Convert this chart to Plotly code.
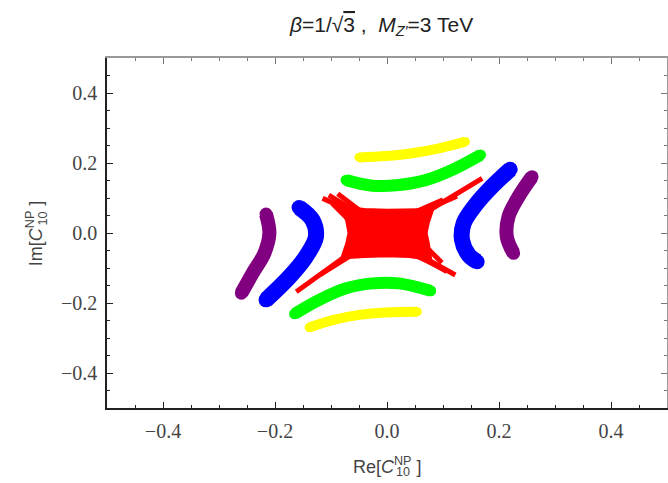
import plotly.graph_objects as go

# ---- data ----
yellow_top_x = [-0.050, -0.002, 0.045, 0.093, 0.140]
yellow_top_y = [0.216, 0.220, 0.228, 0.242, 0.261]
yellow_bot_x = [-0.139, -0.097, -0.050, -0.002, 0.054]
yellow_bot_y = [-0.270, -0.249, -0.234, -0.227, -0.225]

green_top_x = [-0.073, -0.026, 0.021, 0.069, 0.116, 0.167]
green_top_y = [0.151, 0.135, 0.137, 0.151, 0.180, 0.223]
green_bot_x = [-0.165, -0.121, -0.073, -0.026, 0.021, 0.078]
green_bot_y = [-0.231, -0.191, -0.158, -0.144, -0.144, -0.165]

blue_right_x = [0.220, 0.187, 0.158, 0.137, 0.134, 0.146, 0.161]
blue_right_y = [0.182, 0.132, 0.080, 0.028, -0.020, -0.063, -0.082]
blue_left_x = [-0.157, -0.133, -0.127, -0.145, -0.174, -0.216]
blue_left_y = [0.073, 0.037, -0.011, -0.068, -0.125, -0.191]

purple_right_x = [0.259, 0.235, 0.217, 0.214, 0.226]
purple_right_y = [0.161, 0.104, 0.047, -0.011, -0.058]
purple_left_x = [-0.216, -0.210, -0.219, -0.240, -0.260]
purple_left_y = [0.054, -0.001, -0.058, -0.115, -0.172]

red_blob_x = [-0.078, -0.040, 0.000, 0.040, 0.079, 0.072, 0.068, 0.072, 0.076,
              0.040, 0.000, -0.040, -0.078, -0.070, -0.066, -0.070]
red_blob_y = [0.070, 0.064, 0.062, 0.062, 0.064, 0.030, 0.000, -0.030, -0.072,
              -0.064, -0.062, -0.064, -0.068, -0.030, 0.000, 0.035]

red_arm_x = [0.060, 0.170, None, 0.060, 0.125, None, 0.050, 0.100, None,
             -0.060, -0.162, None, -0.060, -0.120, None,
             -0.060, -0.115, None, -0.055, -0.104, None, -0.045, -0.088, None,
             0.055, 0.122, None, 0.050, 0.107, None, 0.045, 0.093, None,
             -0.070, -0.098, None, 0.070, 0.098]
red_arm_y = [0.050, 0.156, None, 0.060, 0.105, None, 0.060, 0.095, None,
             -0.050, -0.168, None, -0.060, -0.120, None,
             0.060, 0.099, None, 0.060, 0.108, None, 0.060, 0.112, None,
             -0.060, -0.120, None, -0.060, -0.110, None, -0.060, -0.096, None,
             0.040, 0.085, None, -0.040, -0.085]

x_ticks = [-0.4, -0.2, 0.0, 0.2, 0.4]
y_ticks = [-0.4, -0.2, 0.0, 0.2, 0.4]

fig = go.Figure()


def band(x, y, color, width):
    fig.add_trace(go.Scatter(
        x=x, y=y, mode="lines+markers",
        line=dict(color=color, width=width, shape="spline", smoothing=1.0),
        marker=dict(color=color, size=width - 1, line=dict(width=0)),
        hoverinfo="skip", showlegend=False))


band(yellow_top_x, yellow_top_y, "#FFFF00", 10)
band(yellow_bot_x, yellow_bot_y, "#FFFF00", 10)
band(green_top_x, green_top_y, "#00FF00", 12)
band(green_bot_x, green_bot_y, "#00FF00", 12)
band(blue_right_x, blue_right_y, "#0000FF", 16)
band(blue_left_x, blue_left_y, "#0000FF", 16)
band(purple_right_x, purple_right_y, "#800080", 14)
band(purple_left_x, purple_left_y, "#800080", 14)

fig.add_trace(go.Scatter(
    x=red_arm_x, y=red_arm_y, mode="lines",
    line=dict(color="#FF0000", width=5), hoverinfo="skip", showlegend=False))
fig.add_trace(go.Scatter(
    x=red_blob_x + [red_blob_x[0]], y=red_blob_y + [red_blob_y[0]],
    mode="lines", fill="toself", fillcolor="#FF0000",
    line=dict(color="#FF0000", width=5),
    hoverinfo="skip", showlegend=False))

# dummy trace for top/right frame axes
fig.add_trace(go.Scatter(x=[None], y=[None], xaxis="x2", yaxis="y2",
                         showlegend=False, hoverinfo="skip"))

tickfont = dict(family="Liberation Serif, Times New Roman, serif", size=20, color="#444444")
common = dict(range=[-0.5, 0.5], showgrid=False, zeroline=False, showline=True,
              ticks="inside", tick0=0, dtick=0.2, ticklen=6, tickwidth=1.2,
              minor=dict(ticks="inside", ticklen=3, dtick=0.05, tick0=0, tickwidth=1),
              fixedrange=True)

fig.update_layout(
    width=668, height=483,
    margin=dict(l=107, r=1, t=58, b=75),
    paper_bgcolor="white", plot_bgcolor="white",
    xaxis=dict(**common, linecolor="#222222", linewidth=1.5, tickcolor="#222222",
               tickvals=x_ticks, ticktext=[f"{v:.1f}".replace("-", "\u2212") for v in x_ticks],
               tickfont=tickfont, ticklabelstandoff=4),
    yaxis=dict(**common, linecolor="#222222", linewidth=1.5, tickcolor="#222222",
               tickvals=y_ticks, ticktext=[f"{v:.1f}".replace("-", "\u2212") for v in y_ticks],
               tickfont=tickfont, ticklabelstandoff=4),
    xaxis2=dict(**common, overlaying="x", side="top", anchor="y", linecolor="#999999",
                linewidth=1.5, tickcolor="#777777", showticklabels=False),
    yaxis2=dict(**common, overlaying="y", side="right", anchor="x", linecolor="#999999",
                linewidth=1.5, tickcolor="#777777", showticklabels=False),
)

sans = "Liberation Sans, Arial, sans-serif"
# title
fig.add_annotation(
    xref="paper", yref="paper", x=0.49, y=1.09, xanchor="center", yanchor="middle",
    text="<i>\u03b2</i>=1/\u221a<span style=\"text-decoration:overline\">3</span> ,  "
         "<i>M</i><sub><i>Z\u2032</i></sub>=3 TeV",
    showarrow=False, font=dict(family=sans, size=21, color="#222222"))

# x axis label (stacked sub/sup)
fig.add_annotation(
    xref="paper", yref="paper", x=0.50, y=-0.165, xanchor="center", yanchor="middle",
    text="Re[<i>C</i><sup>NP</sup> ]", showarrow=False,
    font=dict(family=sans, size=18, color="#444444"))
fig.add_annotation(
    xref="paper", yref="paper", x=0.529, y=-0.182, xanchor="center", yanchor="middle",
    text="10", showarrow=False, font=dict(family=sans, size=12.6, color="#444444"))

# y axis label (rotated)
fig.add_annotation(
    xref="paper", yref="paper", x=-0.130, y=0.50, xanchor="center", yanchor="middle",
    text="Im[<i>C</i><sup>NP</sup> ]", textangle=-90, showarrow=False,
    font=dict(family=sans, size=18, color="#444444"))
fig.add_annotation(
    xref="paper", yref="paper", x=-0.115, y=0.54, xanchor="center", yanchor="middle",
    text="10", textangle=-90, showarrow=False,
    font=dict(family=sans, size=12.6, color="#444444"))

fig.write_html("out.html")
